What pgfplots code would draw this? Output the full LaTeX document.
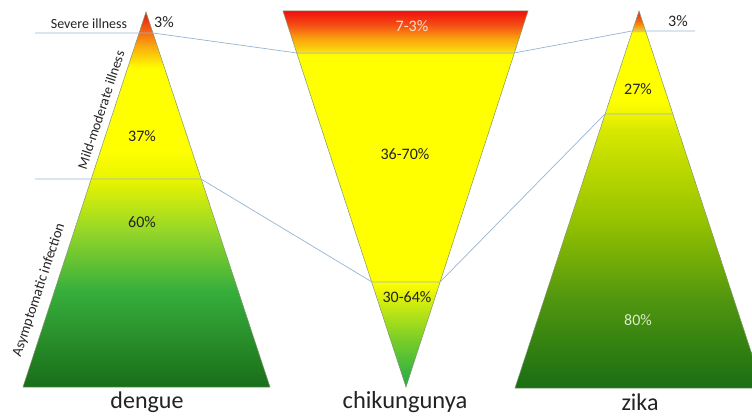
\documentclass[border=0pt]{standalone}
\usepackage{pgfplots}
\pgfplotsset{compat=1.18}
\usepackage{fontspec}
\setmainfont{Carlito}

\definecolor{edgecol}{RGB}{130,150,110}
\definecolor{linkcol}{RGB}{150,180,210}
\definecolor{txt}{RGB}{35,35,35}
\definecolor{lighttxt}{RGB}{250,225,205}
\definecolor{lightgreen}{RGB}{220,235,200}

% path bounding box maps to 25bp (bottom) .. 75bp (top)
\pgfdeclareverticalshading{dengueshade}{100bp}{%
 rgb(0bp)=(0.098,0.431,0.098);
 rgb(25bp)=(0.098,0.431,0.098);
 rgb(37.9bp)=(0.216,0.686,0.235);
 rgb(45.9bp)=(0.588,0.843,0.157);
 rgb(52.6bp)=(0.91,0.957,0);
 rgb(56.6bp)=(1,1,0);
 rgb(67.5bp)=(1,1,0);
 rgb(70.6bp)=(0.98,0.647,0.059);
 rgb(73.3bp)=(0.941,0.294,0.078);
 rgb(75bp)=(0.882,0.098,0.078);
 rgb(100bp)=(0.882,0.098,0.078)}

\pgfdeclareverticalshading{chikshade}{100bp}{%
 rgb(0bp)=(0.118,0.667,0.294);
 rgb(25bp)=(0.118,0.667,0.294);
 rgb(31.25bp)=(0.471,0.804,0.157);
 rgb(37.2bp)=(0.882,0.949,0.039);
 rgb(39bp)=(1,1,0);
 rgb(69.15bp)=(1,1,0);
 rgb(69.8bp)=(0.988,0.843,0.039);
 rgb(71.4bp)=(0.98,0.627,0.059);
 rgb(73.1bp)=(0.961,0.314,0.078);
 rgb(75bp)=(0.941,0.059,0.059);
 rgb(100bp)=(0.941,0.059,0.059)}

\pgfdeclareverticalshading{zikashade}{100bp}{%
 rgb(0bp)=(0.098,0.431,0.078);
 rgb(25bp)=(0.098,0.431,0.078);
 rgb(36.7bp)=(0.314,0.588,0.059);
 rgb(47.3bp)=(0.588,0.765,0);
 rgb(59.2bp)=(0.843,0.91,0);
 rgb(61.3bp)=(0.941,0.961,0);
 rgb(63.2bp)=(1,1,0);
 rgb(72.1bp)=(1,1,0);
 rgb(72.7bp)=(0.98,0.706,0.059);
 rgb(73.8bp)=(0.941,0.392,0.078);
 rgb(75bp)=(0.843,0.157,0.078);
 rgb(100bp)=(0.843,0.157,0.078)}

\begin{document}
\begin{tikzpicture}
\begin{axis}[
  at={(0,0)}, anchor=south west,
  scale only axis, width=752pt, height=417pt,
  xmin=0, xmax=752, ymin=0, ymax=417,
  y dir=reverse, hide axis, clip=true,
]
% triangles
\addplot[draw=edgecol, line width=0.5pt, shading=dengueshade, mark=none]
  coordinates {(23,387) (146,12) (270,387)} -- cycle;
\addplot[draw=edgecol, line width=0.5pt, shading=chikshade, mark=none]
  coordinates {(283,11) (528,11) (406,387)} -- cycle;
\addplot[draw=edgecol, line width=0.5pt, shading=zikashade, mark=none]
  coordinates {(515,388) (639,11) (763,388)} -- cycle;

% connector lines
\addplot[linkcol, line width=0.7pt, mark=none]
  coordinates {(35,33) (153,33) (297,53) (514,53) (632,31) (695,31)};
\addplot[linkcol, line width=0.7pt, mark=none]
  coordinates {(35,179) (201,179) (372,282) (440,282) (605,114) (673,114)};

% labels
\node[txt, font=\fontsize{14}{16}\selectfont] at (axis cs:89,24) {Severe illness};
\node[txt, font=\fontsize{16}{18}\selectfont] at (axis cs:164,22) {3\%};
\node[txt, font=\fontsize{16}{18}\selectfont] at (axis cs:142,136) {37\%};
\node[txt, font=\fontsize{16}{18}\selectfont] at (axis cs:142,222) {60\%};
\node[txt, font=\fontsize{14}{16}\selectfont, rotate=71.8] at (axis cs:101,110) {Mild-moderate illness};
\node[txt, font=\fontsize{14.5}{16}\selectfont, rotate=71.6] at (axis cs:39,290) {Asymptomatic infection};
\node[txt, font=\fontsize{24}{26}\selectfont] at (axis cs:147,402) {dengue};

\node[lighttxt, font=\fontsize{16}{18}\selectfont] at (axis cs:412,26) {7-3\%};
\node[txt, font=\fontsize{16}{18}\selectfont] at (axis cs:405,154) {36-70\%};
\node[txt, font=\fontsize{16}{18}\selectfont] at (axis cs:407,297) {30-64\%};
\node[txt, font=\fontsize{24.5}{26}\selectfont] at (axis cs:405,402) {chikungunya};

\node[txt, font=\fontsize{16}{18}\selectfont] at (axis cs:678,21) {3\%};
\node[txt, font=\fontsize{16}{18}\selectfont] at (axis cs:638,89) {27\%};
\node[lightgreen, font=\fontsize{16}{18}\selectfont] at (axis cs:638,320) {80\%};
\node[txt, font=\fontsize{24}{26}\selectfont] at (axis cs:640,402) {zika};
\end{axis}
\pgfresetboundingbox
\path[use as bounding box] (current axis.south west) rectangle (current axis.north east);
\end{tikzpicture}
\end{document}
